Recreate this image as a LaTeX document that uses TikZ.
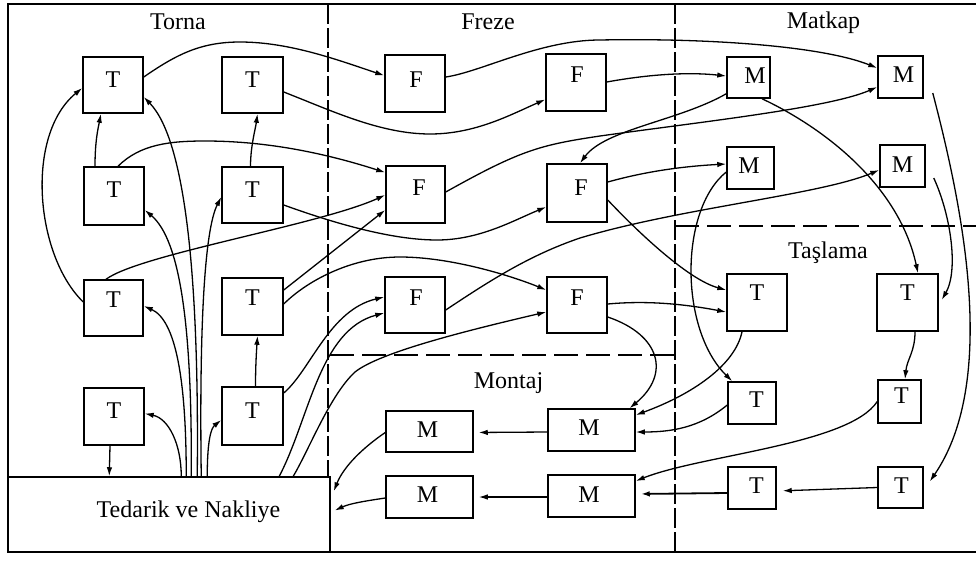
\documentclass[tikz,border=0pt]{standalone}
\usepackage{fontspec}
\setmainfont{Liberation Serif}
\usetikzlibrary{arrows.meta,calc}

% station box: name, centre x, centre y, width, height, text, text dx, text dy
\newcommand\station[8]{%
  \node[box, minimum width=#4pt, minimum height=#5pt,
        label={[lab, xshift=#7pt, yshift=#8pt]center:#6}] (#1) at (#2,#3) {};}

\begin{document}
\begin{tikzpicture}[x=1pt, y=-1pt,
  font=\fontsize{24}{28}\selectfont,
  box/.style={draw, line width=1.5pt, inner sep=0pt},
  lab/.style={inner sep=0pt, anchor=center},
  flow/.style={line width=1.3pt, -{Latex[length=9pt,width=5.5pt]}},
  zone/.style={line width=1.1pt, dash pattern=on 20pt off 4pt},
  zoneh/.style={line width=1.1pt, dash pattern=on 24pt off 8pt},
  title/.style={anchor=base, inner sep=0pt}]
\useasboundingbox (0,0) rectangle (976,560);

% frame and department borders
\draw[line width=1.5pt] (976,4) -- (8,4) -- (8,552) -- (976,552);
\draw[zone] (328,4) -- (328,477);
\draw[zone] (675,4) -- (675,552);
\draw[zoneh] (330,355) -- (675,355);
\draw[zoneh] (675,226) -- (976,226);

% department titles
\node[title] (tTorna)   at (178,29)   {Torna};
\node[title] (tFreze)   at (488,29)   {Freze};
\node[title] (tMatkap)  at (823.5,28) {Matkap};
\node[title] (tTaslama) at (828,258)  {Taşlama};
\node[title] (tMontaj)  at (508.5,388){Montaj};

% Torna
\station{T1a}{113}{85}{60}{56}{T}{0}{5.5}
\station{T1b}{252.5}{85}{61}{56}{T}{0}{5.5}
\station{T2a}{114}{196}{60}{58}{T}{0}{6.5}
\station{T2b}{252.5}{195}{61}{56}{T}{0}{5.5}
\station{T3a}{113.5}{308}{59}{56}{T}{0}{8.5}
\station{T3b}{252.5}{306.5}{61}{57}{T}{0}{9}
\station{T4a}{114}{416.5}{60}{57}{T}{0}{6}
\station{T4b}{252.5}{416}{61}{58}{T}{0}{5.5}
% Freze
\station{F1a}{415}{83.5}{60}{57}{F}{1}{4}
\station{F1b}{576}{82.5}{60}{57}{F}{1}{8}
\station{F2a}{415.5}{194.5}{59}{57}{F}{3.5}{7}
\station{F2b}{577}{193}{60}{58}{F}{4}{5.5}
\station{F3a}{415}{305}{60}{56}{F}{1}{7.5}
\station{F3b}{577}{305}{60}{56}{F}{0}{7.5}
% Montaj
\station{MM1a}{429.5}{431.5}{87}{41}{M}{-2}{2}
\station{MM1b}{591.5}{430}{87}{42}{M}{-2.5}{2.5}
\station{MM2a}{429.5}{497}{87}{42}{M}{-2}{2.5}
\station{MM2b}{591.5}{496}{87}{42}{M}{-2.5}{1.5}
% Matkap
\station{MK1a}{748.5}{77.5}{43}{41}{M}{6.5}{2}
\station{MK1b}{900.5}{77}{45}{42}{M}{3}{2.5}
\station{MK2a}{750.5}{168}{47}{42}{M}{-1.5}{2.5}
\station{MK2b}{902.5}{166}{45}{42}{M}{0}{1.5}
% Taslama
\station{TS1a}{757}{302.5}{60}{57}{T}{0}{10}
\station{TS1b}{907.5}{302.5}{61}{57}{T}{0}{10}
\station{TS2a}{752}{403}{48}{42}{T}{4.5}{3.5}
\station{TS2b}{899.5}{401.5}{43}{43}{T}{2}{6}
\station{TS3a}{752}{488}{48}{42}{T}{4.5}{2.5}
\station{TS3b}{900.5}{487.5}{45}{41}{T}{1}{2}
% supply and transport
\station{Ted}{169}{514.5}{322}{75}{Tedarik ve Nakliye}{19.5}{2.7}

% ---- Torna flows
\draw[flow] ($(T1a.east)+(0,-8)$) .. controls +(32,-22) and +(-40,0) .. (240,42)
  .. controls +(50,0) and +(-45,-15) .. ($(F1a.west)+(0,-8)$);
\draw[flow] ($(T1b.east)+(0,7)$) .. controls (330,110) and (380,134) .. (430,134)
  .. controls (475,134) and (510,115) .. ($(F1b.west)+(0,17)$);
\draw[flow] ($(T2a.north)+(-19,0)$) .. controls +(0,-25) and +(-3,15) .. ($(T1a.south)+(-12,0)$);
\draw[flow] ($(T2a.north)+(4,0)$) .. controls +(22,-22) and +(-35,0) .. (205,141)
  .. controls +(65,0) and +(-56,-18) .. ($(F2a.west)+(0,-22)$);
\draw[flow] ($(T2b.north)+(-2,0)$) .. controls +(0,-20) and +(-2,15) .. ($(T1b.south)+(5,0)$);
\draw[flow] ($(T2b.east)+(0,10)$) .. controls +(47,17) and +(-47,0) .. (437,240)
  .. controls +(43,0) and +(-32,13) .. ($(F2b.west)+(0,14)$);
\draw[flow] ($(T3a.west)+(0,-6)$) .. controls (35,255) and (25,135) .. ($(T1a.west)+(0,3)$);
\draw[flow] ($(T3a.north)+(-7.5,0)$) .. controls +(34,-25) and +(-66,30) .. ($(F2a.west)+(0,0.5)$);
\draw[flow] ($(T3b.east)+(0,-16.5)$) -- ($(F2a.west)+(0,15.5)$);
\draw[flow] ($(T3b.east)+(0,-2.5)$) .. controls +(22,-22) and +(-50,0) .. (400,257)
  .. controls +(50,0) and +(-37,-15) .. ($(F3b.west)+(0,-15)$);
\draw[flow] ($(T4b.north)+(3,0)$) .. controls +(0,-20) and +(-1,15) .. ($(T3b.south)+(5,0)$);
\draw[flow] ($(T4b.east)+(0,-23)$) .. controls +(27,-23) and +(-55,13) .. ($(F3a.west)+(0,-8)$);
\draw[flow] ($(T4a.south)+(-4,0)$) -- ($(Ted.north west)+(102,0)$);

% ---- supply fan
\draw[flow] ($(Ted.north west)+(174,0)$) .. controls +(0,-32) and +(24,5) .. ($(T4a.east)+(0,-3)$);
\draw[flow] ($(Ted.north west)+(179,0)$) .. controls +(0,-97) and +(32,14) .. ($(T3a.east)+(0,-2)$);
\draw[flow] ($(Ted.north west)+(184,0)$) .. controls +(1,-147) and +(36,30) .. ($(T2a.east)+(0,14)$);
\draw[flow] ($(Ted.north west)+(190,0)$) .. controls +(2,-197) and +(42,43) .. ($(T1a.east)+(0,12)$);
\draw[flow] ($(Ted.north west)+(194,0)$) .. controls +(-2,-147) and +(-17,33) .. ($(T2b.west)+(0,2)$);
\draw[flow] ($(Ted.north west)+(200,0)$) .. controls +(0,-37) and +(-10,8) .. ($(T4b.west)+(0,4)$);
\draw[flow] ($(Ted.north west)+(272,0)$) .. controls +(30,-57) and +(-65,17) .. ($(F3a.west)+(0,8)$);
\draw[flow] ($(Ted.north west)+(286,0)$) .. controls +(16,-27) and +(-25,23) .. (355,372)
  .. controls +(25,-20) and +(-77,18) .. ($(F3b.west)+(0,7)$);

% ---- Freze flows
\draw[flow] ($(F1a.east)+(0,-6.5)$) .. controls +(35,-5) and +(-60,0) .. (600,40)
  .. controls +(100,-2) and +(-58,-23) .. ($(MK1b.west)+(0,-9)$);
\draw[flow] ($(F1b.east)+(0,-0.5)$) .. controls +(44,-8) and +(-37,-4) .. ($(MK1a.west)+(0,-1.5)$);
\draw[flow] ($(MK1a.south west)+(0,-5)$) .. controls +(-47,27) and +(25,-34) .. ($(F2b.north)+(3,0)$);
\draw[flow] ($(F2a.east)+(0,-2.5)$) .. controls +(75,-42) and +(-60,9) .. (600,136)
  .. controls +(100,-14) and +(-48,21) .. ($(MK1b.west)+(0,10)$);
\draw[flow] ($(F2b.east)+(0,-11)$) .. controls +(43,-12) and +(-37,2) .. ($(MK2a.west)+(0,-4)$);
\draw[flow] ($(F2b.east)+(0,7)$) .. controls +(33,35) and +(-37,-10) .. ($(TS1a.west)+(0,-12.5)$);
\draw[flow] ($(F3a.east)+(0,5)$) .. controls +(45,-30) and +(-50,17) .. (580,238)
  .. controls +(100,-30) and +(-60,25) .. ($(MK2b.west)+(0,4)$);
\draw[flow] ($(F3b.east)+(0,-1)$) .. controls +(43,-4) and +(-37,-7) .. ($(TS1a.west)+(0,9.5)$);
\draw[flow] ($(F3b.east)+(0,12)$) .. controls +(53,18) and +(41,-34) .. ($(MM1b.north)+(38,0)$);

% ---- Matkap flows
\draw[flow] ($(MK1a.south)+(13.5,0)$) .. controls +(68,32) and +(-18,-84) .. ($(TS1b.north)+(10.5,0)$);
\draw[flow] ($(MK1b.east)+(9,16)$) .. controls +(28,107) and +(70,-102) .. ($(TS3b.east)+(6,-6)$);
\draw[flow] ($(MK2b.east)+(8,12)$) .. controls +(17,37) and +(17,-30) .. ($(TS1b.east)+(3,-2.5)$);
\draw[flow] ($(MK2a.west)+(0,4)$) .. controls +(-47,38) and +(-53,-52) .. ($(TS2a.north west)+(5,0)$);

% ---- Taslama flows
\draw[flow] ($(TS1a.south)+(-15,0)$) .. controls +(-7,34) and +(55,-20) .. ($(MM1b.east)+(0,-15)$);
\draw[flow] ($(TS2a.west)+(0,2)$) .. controls +(-28,23) and +(35,0) .. ($(MM1b.east)+(0,2)$);
\draw[flow] ($(TS1b.south)+(7.5,0)$) .. controls +(0,20) and +(2,-20) .. ($(TS2b.north)+(5.5,0)$);
\draw[flow] (TS2b.west) .. controls +(-28,43) and +(65,-26) .. ($(MM2b.east)+(0,-15)$);
\draw[flow, shorten >=6pt] (TS3b.west) -- ($(TS3a.east)+(0,3)$);
\draw[flow, line width=1.8pt, shorten >=5pt] ($(TS3a.west)+(0,5)$) -- ($(MM2b.east)+(0,-2)$);

% ---- Montaj flows
\draw[flow, shorten >=5pt] ($(MM1b.west)+(0,2)$) -- ($(MM1a.east)+(0,1)$);
\draw[flow, shorten >=5pt] ($(MM2b.west)+(0,1)$) -- (MM2a.east);
\draw[flow] ($(MM1a.west)+(0,1)$) .. controls +(-22,15) and +(10,-25) .. ($(Ted.north east)+(3,15)$);
\draw[flow] ($(MM2a.west)+(0,1)$) .. controls +(-20,3) and +(15,-7) .. ($(Ted.east)+(4,-4)$);
\end{tikzpicture}
\end{document}
